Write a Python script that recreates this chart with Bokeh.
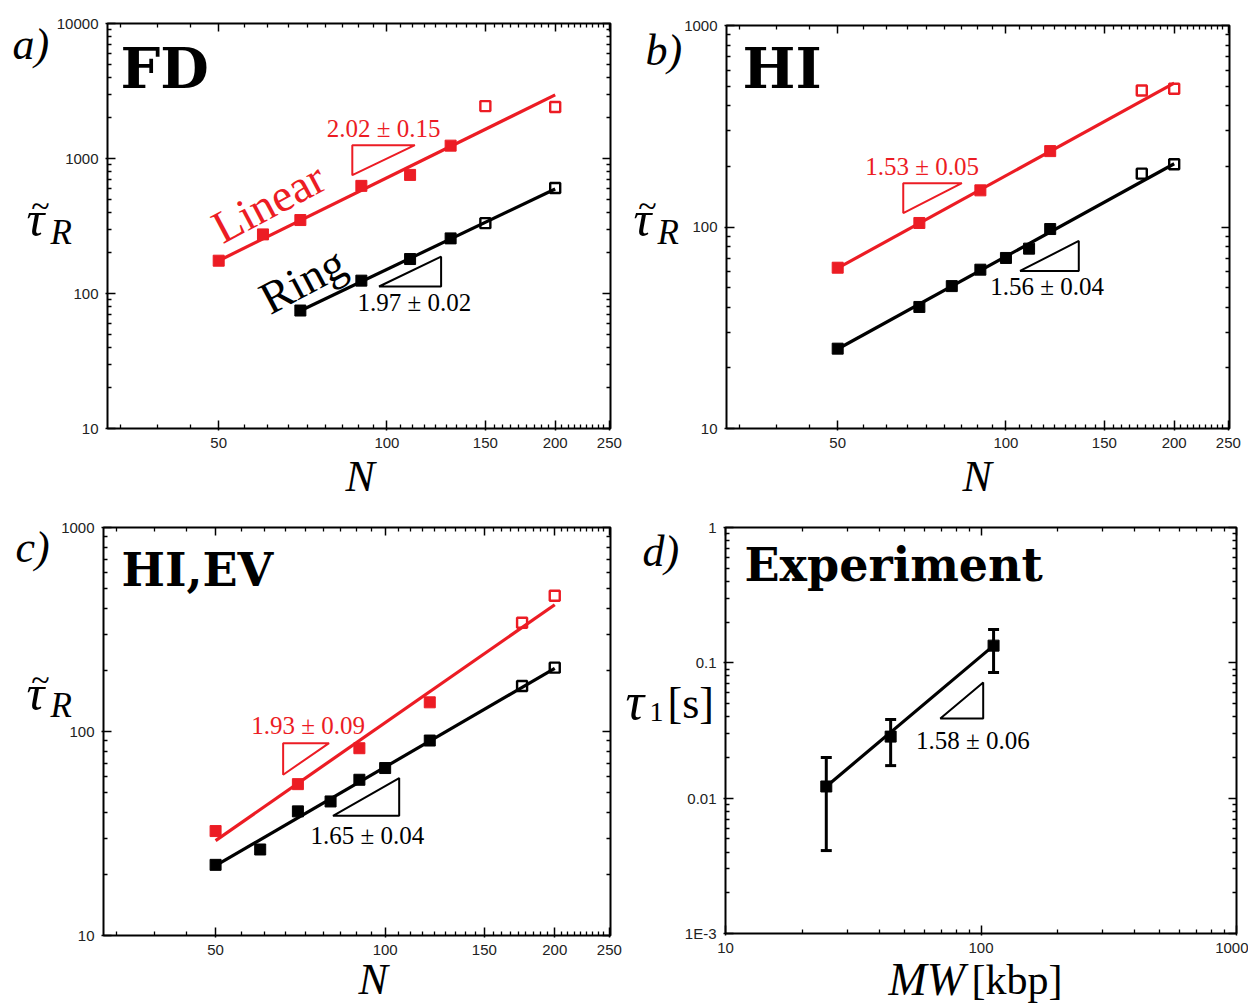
import math
from bokeh.plotting import figure
from bokeh.models import (LogAxis, FixedTicker, CustomJSTickFormatter, Label,
                          ColumnDataSource, Range1d, Whisker, TeeHead)
from bokeh.layouts import column, row
from bokeh.core.properties import value
from bokeh.embed import file_html
from bokeh.resources import INLINE

RED = "#ec1c24"
BLK = "#000000"
SERIF = "Liberation Serif"
BOLD_SERIF = "DejaVu Serif"
SANS = "Liberation Sans"

# ---------------- data ----------------
# (a) FD
a_lin_N = [50, 60, 70, 90, 110, 130]
a_lin_tau = [175, 274, 350, 627, 756, 1245]
a_lin_open_N = [150, 200]
a_lin_open_tau = [2445, 2410]
a_ring_N = [70, 90, 110, 130]
a_ring_tau = [74.8, 124.5, 180, 256]
a_ring_open_N = [150, 200]
a_ring_open_tau = [332, 604]
a_lin_fit_N = [50, 200]
a_lin_fit_tau = [175, 2960]
a_ring_fit_N = [70, 200]
a_ring_fit_tau = [74.5, 595]
a_slope_text = ["2.02 ± 0.15", "1.97 ± 0.02"]
a_slope_N = [98.6, 112.0]
a_slope_tau = [1670, 86]
a_slope_color = [RED, BLK]
a_tri_lin_N = [86.7, 112.2, 86.7]
a_tri_lin_tau = [1255, 1255, 752]
a_tri_ring_N = [96.8, 125, 125]
a_tri_ring_tau = [112.7, 112.7, 187.5]

# (b) HI
b_lin_N = [50, 70, 90, 120]
b_lin_tau = [62.8, 104.7, 152, 238]
b_lin_open_N = [175, 200]
b_lin_open_tau = [476, 485]
b_ring_N = [50, 70, 80, 90, 100, 110, 120]
b_ring_tau = [24.9, 40.1, 50.9, 61.4, 70.2, 78.1, 97.7]
b_ring_open_N = [175, 200]
b_ring_open_tau = [184, 205]
b_lin_fit_N = [50, 200]
b_lin_fit_tau = [62.5, 518]
b_ring_fit_N = [50, 200]
b_ring_fit_tau = [24.8, 206]
b_slope_text = ["1.53 ± 0.05", "1.56 ± 0.04"]
b_slope_N = [70.8, 118.5]
b_slope_tau = [199, 50.4]
b_slope_color = [RED, BLK]
b_tri_lin_N = [65.5, 83.4, 65.5]
b_tri_lin_tau = [165, 165, 117.3]
b_tri_ring_N = [106, 135, 135]
b_tri_ring_tau = [60.5, 60.5, 85.3]

# (c) HI,EV
c_lin_N = [50, 70, 90, 120]
c_lin_tau = [32.5, 55.2, 82.8, 139]
c_lin_open_N = [175, 200]
c_lin_open_tau = [341, 463]
c_ring_N = [50, 60, 70, 80, 90, 100, 120]
c_ring_tau = [22.2, 26.4, 40.6, 45.4, 58.0, 66.2, 90.3]
c_ring_open_N = [175, 200]
c_ring_open_tau = [167, 205.6]
c_lin_fit_N = [50, 200]
c_lin_fit_tau = [29.2, 418]
c_ring_fit_N = [50, 200]
c_ring_fit_tau = [22.0, 204]
c_slope_text = ["1.93 ± 0.09", "1.65 ± 0.04"]
c_slope_N = [73, 93]
c_slope_tau = [107.4, 31]
c_slope_color = [RED, BLK]
c_tri_lin_N = [65.9, 79.5, 65.9]
c_tri_lin_tau = [87.7, 87.7, 61.4]
c_tri_ring_N = [80.8, 105.9, 105.9]
c_tri_ring_tau = [38.6, 38.6, 59.1]

# (d) Experiment
d_MW = [24.8, 44.3, 112]
d_tau = [0.0122, 0.0285, 0.134]
d_tau_hi = [0.0200, 0.0381, 0.176]
d_tau_lo = [0.0041, 0.0174, 0.0848]
d_fit_MW = [24.8, 112]
d_fit_tau = [0.0122, 0.134]
d_slope_text = ["1.58 ± 0.06"]
d_slope_MW = [93]
d_slope_tau = [0.0265]
d_slope_color = [BLK]
d_tri_MW = [69.3, 102, 102]
d_tri_tau = [0.0388, 0.0388, 0.0715]

# ---------------- ticks ----------------
N_major = [50, 100, 150, 200, 250]
N_minor = [k * 50 / 9 for k in range(6, 46) if k % 9 != 0]
MW_major = [10, 100, 1000]
MW_minor = [m * 10 ** e for e in (1, 2) for m in range(2, 10)]


def decade_ticks(e0, e1):
    major = [10.0 ** e for e in range(e0, e1 + 1)]
    minor = [m * 10.0 ** e for e in range(e0, e1) for m in range(2, 10)]
    return major, minor


FMT = "return tick < 0.002 ? '1E-3' : String(tick);"
NOFMT = "return '';"


def style_axis(ax, maj, mnr, loc, bounds, labels):
    ax.ticker = FixedTicker(ticks=maj, minor_ticks=mnr)
    ax.fixed_location = loc
    ax.bounds = bounds
    ax.axis_line_color = None
    ax.major_tick_in = 8
    ax.minor_tick_in = 4
    ax.minor_tick_out = 0
    ax.major_tick_line_width = 1.5
    ax.minor_tick_line_width = 1.3
    ax.major_tick_line_color = "black"
    ax.minor_tick_line_color = "black"
    if labels:
        ax.formatter = CustomJSTickFormatter(code=FMT)
        ax.major_tick_out = 2
        ax.major_label_text_font = SANS
        ax.major_label_text_font_size = "15px"
        ax.major_label_text_color = "#222222"
        ax.major_label_standoff = 7
    else:
        ax.formatter = CustomJSTickFormatter(code=NOFMT)
        ax.major_tick_out = 0
        ax.major_label_standoff = 0


class Panel:
    """Maps page pixels of the reference onto one figure whose frame is the whole canvas."""

    def __init__(self, origin, size, box, xr, yr, xt, yt):
        self.ox, self.oy = origin
        self.w, self.h = size
        self.l, self.t, self.r, self.b = box
        self.xr, self.yr = xr, yr
        self.lx0, self.lx1 = math.log10(xr[0]), math.log10(xr[1])
        self.ly0, self.ly1 = math.log10(yr[0]), math.log10(yr[1])
        self.kx = (self.lx1 - self.lx0) / (self.r - self.l)
        self.ky = (self.ly1 - self.ly0) / (self.b - self.t)
        x_start, y_top = self.px2data(self.ox, self.oy)
        x_end, y_bot = self.px2data(self.ox + self.w, self.oy + self.h)
        p = figure(width=self.w, height=self.h, x_axis_type="log", y_axis_type="log",
                   x_range=Range1d(x_start, x_end), y_range=Range1d(y_bot, y_top),
                   output_backend="svg", toolbar_location=None, title=None,
                   min_border=0, min_border_left=0, min_border_right=0,
                   min_border_top=0, min_border_bottom=0)
        p.grid.visible = False
        p.outline_line_color = None
        p.add_layout(LogAxis(), "above")
        p.add_layout(LogAxis(), "right")
        style_axis(p.below[0], xt[0], xt[1], yr[0], xr, True)
        style_axis(p.above[0], xt[0], xt[1], yr[1], xr, False)
        style_axis(p.left[0], yt[0], yt[1], xr[0], yr, True)
        style_axis(p.right[0], yt[0], yt[1], xr[1], yr, False)
        p.quad(left=[xr[0]], right=[xr[1]], bottom=[yr[0]], top=[yr[1]],
               fill_color=None, line_color="black", line_width=2)
        self.p = p

    def px2data(self, px, py):
        return (10 ** (self.lx0 + (px - self.l) * self.kx),
                10 ** (self.ly0 + (self.b - py) * self.ky))

    def lab(self, px, py, text, size, style="normal", font=SERIF, color=BLK,
            align="left", angle=0.0):
        # py is the vertical middle of the text line
        x, y = self.px2data(px, py)
        self.p.add_layout(Label(x=x, y=y, text=text, text_font=font,
                                text_font_size=f"{size}px", text_font_style=style,
                                text_color=color, text_align=align,
                                text_baseline="middle", angle=angle))

    def tau_tilde_R(self, px, py, rx, ry):
        self.lab(px, py, "\u03c4", 50, style="italic")
        self.lab(px + 14, py - 13, "~", 34, align="center")
        self.lab(rx, ry, "R", 35, style="italic")

    def series(self, N, tau, oN, otau, fN, ftau, color):
        p = self.p
        p.line(fN, ftau, line_color=color, line_width=3.2)
        p.scatter(N, tau, marker="square", size=11, fill_color=color, line_color=color)
        p.scatter(oN, otau, marker="square", size=10, fill_color=None,
                  line_color=color, line_width=2.4)

    def slopes(self, sx, sy, st, sc):
        src = ColumnDataSource(dict(x=sx, y=sy, t=st, c=sc))
        self.p.text(x="x", y="y", text="t", source=src, text_color="c",
                    text_font=value(SERIF), text_font_size="25px",
                    text_align="center", text_baseline="middle")

    def tri(self, x, y, color):
        self.p.patch(x, y, fill_color=None, line_color=color, line_width=2)


N_range = (10 ** 1.5, 10 ** 2.4)

# ---------------- panel a ----------------
A = Panel((0, 0), (628, 508), (107, 23, 610, 428), N_range, (10, 10000),
          (N_major, N_minor), decade_ticks(1, 4))
A.series(a_lin_N, a_lin_tau, a_lin_open_N, a_lin_open_tau, a_lin_fit_N, a_lin_fit_tau, RED)
A.series(a_ring_N, a_ring_tau, a_ring_open_N, a_ring_open_tau, a_ring_fit_N, a_ring_fit_tau, BLK)
A.tri(a_tri_lin_N, a_tri_lin_tau, RED)
A.tri(a_tri_ring_N, a_tri_ring_tau, BLK)
A.slopes(a_slope_N, a_slope_tau, a_slope_text, a_slope_color)
A.lab(268, 202, "Linear", 46, color=RED, align="center", angle=math.radians(28))
A.lab(302, 280, "Ring", 46, align="center", angle=math.radians(28))
A.lab(12, 44, "a)", 44, style="italic")
A.lab(120, 67, "FD", 56, style="bold", font=BOLD_SERIF)
A.tau_tilde_R(26, 218, 50, 232)
A.lab(345, 476, "N", 44, style="italic")

# ---------------- panel b ----------------
B = Panel((628, 0), (620, 508), (726, 25, 1229, 428), N_range, (10, 1000),
          (N_major, N_minor), decade_ticks(1, 3))
B.series(b_lin_N, b_lin_tau, b_lin_open_N, b_lin_open_tau, b_lin_fit_N, b_lin_fit_tau, RED)
B.series(b_ring_N, b_ring_tau, b_ring_open_N, b_ring_open_tau, b_ring_fit_N, b_ring_fit_tau, BLK)
B.tri(b_tri_lin_N, b_tri_lin_tau, RED)
B.tri(b_tri_ring_N, b_tri_ring_tau, BLK)
B.slopes(b_slope_N, b_slope_tau, b_slope_text, b_slope_color)
B.lab(645, 50, "b)", 44, style="italic")
B.lab(742, 67, "HI", 56, style="bold", font=BOLD_SERIF)
B.tau_tilde_R(633, 218, 657, 232)
B.lab(962, 476, "N", 44, style="italic")

# ---------------- panel c ----------------
C = Panel((0, 508), (622, 497), (103, 527, 610, 935), N_range, (10, 1000),
          (N_major, N_minor), decade_ticks(1, 3))
C.series(c_lin_N, c_lin_tau, c_lin_open_N, c_lin_open_tau, c_lin_fit_N, c_lin_fit_tau, RED)
C.series(c_ring_N, c_ring_tau, c_ring_open_N, c_ring_open_tau, c_ring_fit_N, c_ring_fit_tau, BLK)
C.tri(c_tri_lin_N, c_tri_lin_tau, RED)
C.tri(c_tri_ring_N, c_tri_ring_tau, BLK)
C.slopes(c_slope_N, c_slope_tau, c_slope_text, c_slope_color)
C.lab(15, 547, "c)", 44, style="italic")
C.lab(121, 569, "HI,EV", 46, style="bold", font=BOLD_SERIF)
C.tau_tilde_R(26, 692, 50, 705)
C.lab(358, 979, "N", 44, style="italic")

# ---------------- panel d ----------------
D = Panel((622, 508), (626, 497), (725, 527, 1236, 933), (10, 1000), (0.001, 1),
          (MW_major, MW_minor), decade_ticks(-3, 0))
D.p.line(d_fit_MW, d_fit_tau, line_color=BLK, line_width=3.2)
dsrc = ColumnDataSource(dict(x=d_MW, y=d_tau, hi=d_tau_hi, lo=d_tau_lo))
D.p.add_layout(Whisker(base="x", upper="hi", lower="lo", source=dsrc,
                       dimension="height", line_width=3, line_color=BLK,
                       upper_head=TeeHead(size=11, line_width=3, line_color=BLK),
                       lower_head=TeeHead(size=11, line_width=3, line_color=BLK)))
D.p.scatter("x", "y", source=dsrc, marker="square", size=11,
            fill_color=BLK, line_color=BLK)
D.tri(d_tri_MW, d_tri_tau, BLK)
D.slopes(d_slope_MW, d_slope_tau, d_slope_text, d_slope_color)
D.lab(642, 551, "d)", 44, style="italic")
D.lab(744, 564, "Experiment", 46, style="bold", font=BOLD_SERIF)
D.lab(625, 701, "\u03c4", 52, style="italic")
D.lab(649, 711, "1", 28)
D.lab(667, 703, "[s]", 44)
D.lab(888, 979, "MW", 46, style="italic")
D.lab(971, 979, "[kbp]", 42)

layout = column(row(A.p, B.p), row(C.p, D.p))
open("out.html", "w").write(file_html(layout, INLINE))
